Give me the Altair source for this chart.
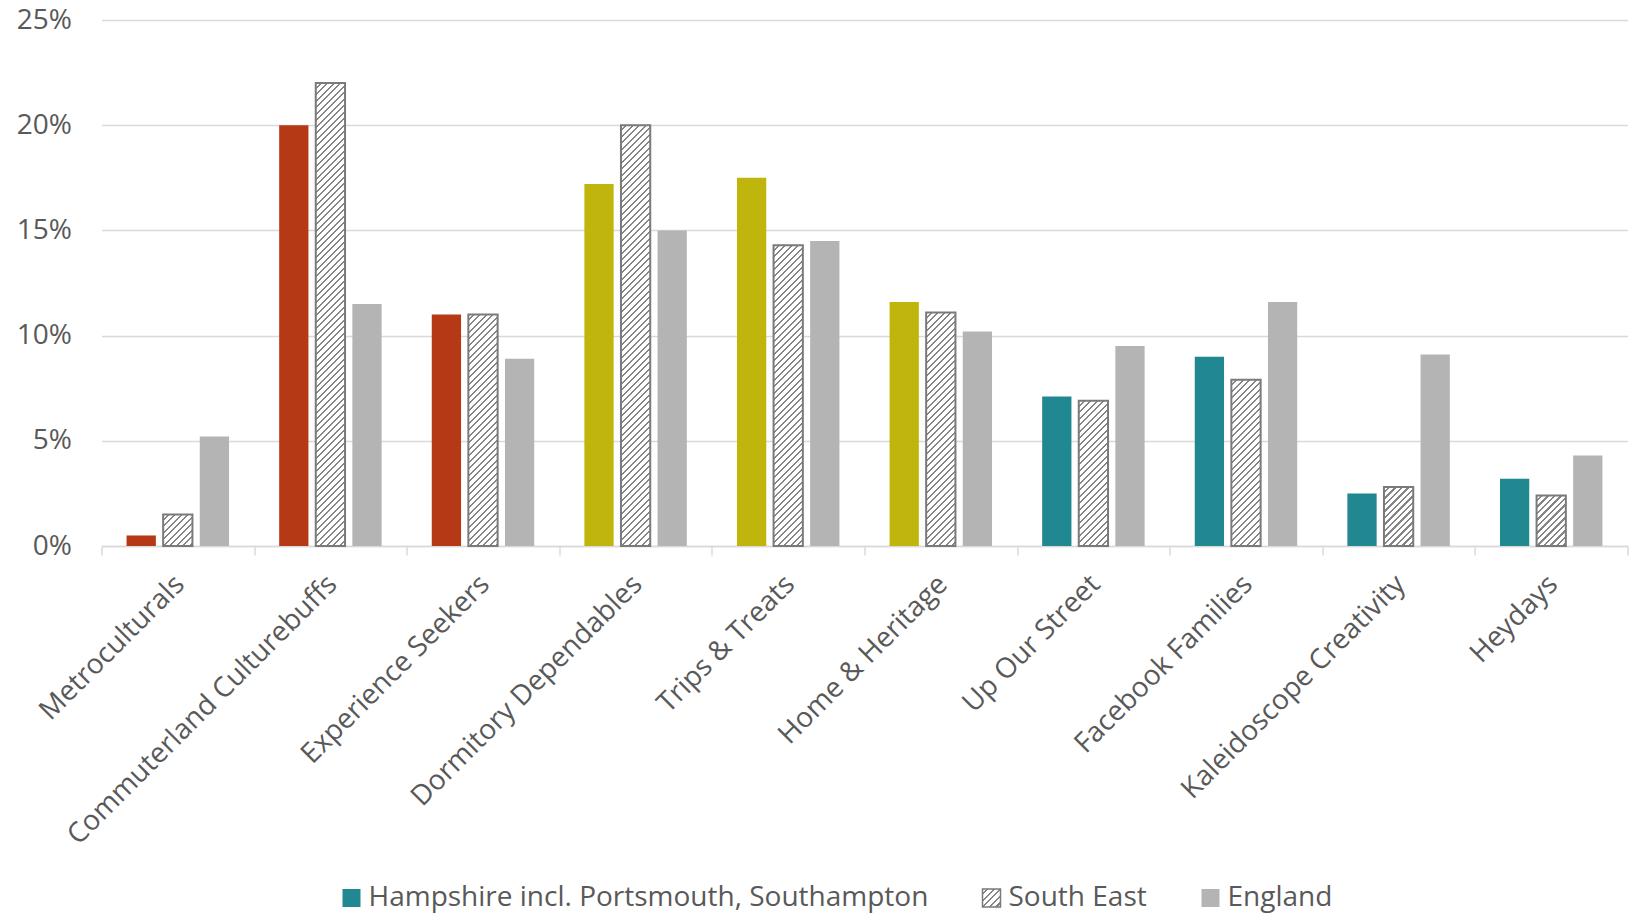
import altair as alt
import pandas as pd

# Audience Spectrum segments, in display order, with their engagement band
segments = [
    "Metroculturals", "Commuterland Culturebuffs", "Experience Seekers",
    "Dormitory Dependables", "Trips & Treats", "Home & Heritage",
    "Up Our Street", "Facebook Families", "Kaleidoscope Creativity", "Heydays",
]
engagement = ["High", "High", "High", "Medium", "Medium", "Medium",
              "Low", "Low", "Low", "Low"]

series_names = ["Hampshire incl. Portsmouth, Southampton", "South East", "England"]

# share of population in each segment, %
hampshire = [0.5, 20.0, 11.0, 17.2, 17.5, 11.6, 7.1, 9.0, 2.5, 3.2]
south_east = [1.5, 22.0, 11.0, 20.0, 14.3, 11.1, 6.9, 7.9, 2.8, 2.4]
england = [5.2, 11.5, 8.9, 15.0, 14.5, 10.2, 9.5, 11.6, 9.1, 4.3]

y_ticks = [0, 5, 10, 15, 20, 25]

RED, OLIVE, TEAL, GREY = "#B53914", "#BFB50C", "#218891", "#B4B4B4"
TEXT = "#595959"
RULE = "#D9D9D9"
BORDER = "#7A7A7A"
FONT = "Open Sans"
FONT_SIZE = 28

rows = []
for name, values in zip(series_names, [hampshire, south_east, england]):
    for seg, eng, v in zip(segments, engagement, values):
        rows.append({"segment": seg, "engagement": eng, "series": name, "value": v})
df = pd.DataFrame(rows)

# Diagonal hatching for the South East bars: a linear gradient with hard stops.
# Gradient coordinates are in bounding-box units, so the end point is scaled
# from each bar's pixel size to keep the stripes at 45 degrees.
N_STRIPES = 90
PERIOD = 6.5          # stripe spacing along x, px
LINE_FRAC = 0.32
HATCH_LINE = "#858585"
stops = []
for k in range(N_STRIPES):
    a = round(k / N_STRIPES, 6)
    b = round((k + 1 - LINE_FRAC) / N_STRIPES, 6)
    c = round((k + 1) / N_STRIPES, 6)
    stops += [
        {"offset": a, "color": "#ffffff"},
        {"offset": b, "color": "#ffffff"},
        {"offset": b, "color": HATCH_LINE},
        {"offset": c, "color": HATCH_LINE},
    ]
hatch_stops = alt.param(name="hatchStops", value=stops)
SPAN = N_STRIPES * PERIOD

bar_h = "(scale('y', 0) - scale('y', datum.value))"
bar_w = "bandwidth('xOffset')"
norm = f"({bar_w}*{bar_w} + {bar_h}*{bar_h})"
bar_hatch = (
    "{gradient: 'linear', x1: 0, y1: 0, "
    f"x2: {SPAN}*{bar_w}/{norm}, y2: {SPAN}*{bar_h}/{norm}, stops: hatchStops}}"
)
SYMBOL_SIDE = 18
legend_hatch = (
    "{gradient: 'linear', x1: 0, y1: 0, "
    f"x2: {SPAN / (2 * SYMBOL_SIDE)}, y2: {SPAN / (2 * SYMBOL_SIDE)}, stops: hatchStops}}"
)

x_enc = alt.X(
    "segment:N", sort=segments, title=None,
    scale=alt.Scale(paddingInner=0, paddingOuter=0),
    axis=alt.Axis(
        labelAngle=-45, labelAlign="right", labelBaseline="top",
        labelFontSize=FONT_SIZE, labelColor=TEXT, labelFont=FONT, labelLimit=1000,
        labelPadding=15, labelOffset=-8, tickBand="extent", tickSize=9,
        tickColor=RULE, tickWidth=1.5, domain=True, domainColor=RULE,
        domainWidth=1.5, grid=False,
    ),
)
xoff_enc = alt.XOffset(
    "series:N", sort=series_names,
    scale=alt.Scale(domain=series_names, paddingInner=0.2, paddingOuter=0.685),
)
y_enc = alt.Y(
    "value:Q", stack=None, title=None,
    scale=alt.Scale(domain=[0, 25], nice=False),
    axis=alt.Axis(
        values=y_ticks, labelExpr="datum.value + '%'", labelFontSize=FONT_SIZE,
        labelColor=TEXT, labelFont=FONT, labelPadding=30, domain=False,
        ticks=False, grid=True, gridColor=RULE, gridWidth=1.3,
    ),
)

legend = alt.Legend(
    title=None, orient="none", legendX=236, legendY=864,
    direction="horizontal", symbolType="square", symbolSize=SYMBOL_SIDE ** 2,
    symbolStrokeWidth=1.5, labelFontSize=FONT_SIZE, labelColor=TEXT,
    labelFont=FONT, labelOffset=3, columnPadding=49, labelLimit=1000,
)

base = alt.Chart(df)

hampshire_bars = base.transform_filter(
    alt.datum.series == series_names[0]
).mark_bar().encode(
    x=x_enc, xOffset=xoff_enc, y=y_enc,
    color=alt.Color(
        "engagement:N",
        scale=alt.Scale(domain=["High", "Medium", "Low"], range=[RED, OLIVE, TEAL]),
        legend=None,
    ),
)

south_east_bars = base.transform_filter(
    alt.datum.series == series_names[1]
).mark_bar(stroke=BORDER, strokeWidth=2).encode(
    x=x_enc, xOffset=xoff_enc, y=y_enc,
    fill={"value": {"expr": bar_hatch}},
)

england_bars = base.transform_filter(
    alt.datum.series == series_names[2]
).mark_bar().encode(
    x=x_enc, xOffset=xoff_enc, y=y_enc,
    fill=alt.Fill(
        "series:N",
        scale=alt.Scale(domain=series_names,
                        range=[TEAL, {"expr": legend_hatch}, GREY]),
        legend=legend,
    ),
    stroke=alt.Stroke(
        "series:N",
        scale=alt.Scale(domain=series_names,
                        range=["transparent", BORDER, "transparent"]),
        legend=legend,
    ),
)

chart = alt.layer(
    hampshire_bars, south_east_bars, england_bars
).add_params(hatch_stops).properties(
    width=1526, height=526,
    autosize=alt.AutoSizeParams(type="none"),
    padding={"left": 101.5, "top": 20, "right": 13.5, "bottom": 369},
).configure(
    font=FONT
).configure_view(
    strokeWidth=0, stroke="transparent"
)

chart.save("out.html", embed_options={"renderer": "svg", "actions": False})
